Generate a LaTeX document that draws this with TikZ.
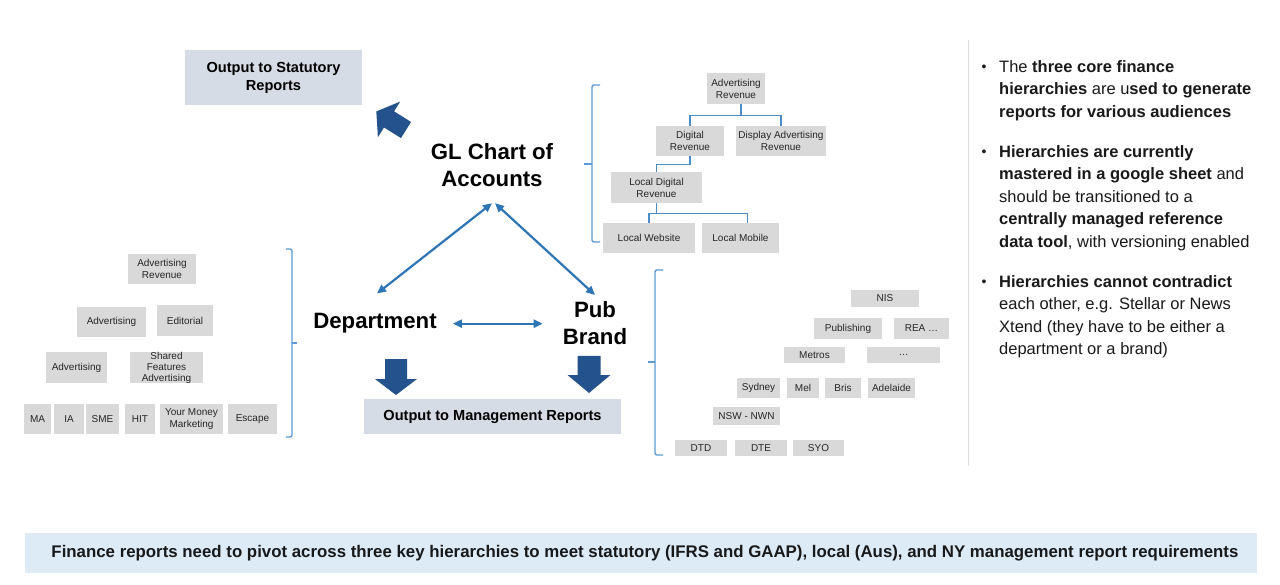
\documentclass[tikz,border=0pt]{standalone}
\usepackage{fontspec}
\usepackage{graphicx}
\setmainfont{Liberation Sans}
\usetikzlibrary{arrows.meta,calc}
\definecolor{boxgray}{HTML}{D9D9D9}
\definecolor{outfill}{HTML}{D6DCE5}
\definecolor{barblue}{HTML}{DDEBF7}
\definecolor{darkblue}{HTML}{24528C}
\definecolor{dblblue}{HTML}{2E75B6}
\definecolor{brkblue}{HTML}{5B9BD5}
\definecolor{treeblue}{HTML}{4A8CC9}
\definecolor{sepgray}{HTML}{DDDDDD}
\newcommand\hb[6]{\node[hbox, minimum width={#4-#2}, minimum height={#5-#3}] (#1) at ({(#2+#4)/2},{(#3+#5)/2}) {#6};}
\newcommand\blockarr[7]{\fill[blockarrow, shift={(#1,#2)}, rotate=#3] (0,-#6) -- ({#4-#5},-#6) -- ({#4-#5},-#7) -- (#4,0) -- ({#4-#5},#7) -- ({#4-#5},#6) -- (0,#6) -- cycle;}
\begin{document}
\begin{tikzpicture}[x=1pt,y=-1pt,
  hbox/.style={fill=boxgray, inner sep=0pt, align=center, text=black!85, font=\fontsize{10}{12}\selectfont},
  outbox/.style={fill=outfill, inner sep=0pt, align=center, font=\fontsize{14.6}{18}\selectfont\bfseries},
  big/.style={inner sep=0pt, align=center, font=\fontsize{22.2}{27.5}\selectfont\bfseries},
  dbl/.style={draw=dblblue, line width=2.2pt, {Triangle[length=9pt,width=8pt]}-{Triangle[length=9pt,width=8pt]}},
  tree/.style={draw=treeblue, line width=1.3pt},
  brk/.style={draw=brkblue, line width=1.4pt, rounded corners=2pt},
  blockarrow/.style={fill=darkblue},
  para/.style={anchor=north west, inner sep=0pt, align=left, font=\fontsize{16.5}{22.5}\selectfont, text=black!90},
  bul/.style={inner sep=0pt, font=\fontsize{14}{14}\selectfont, text=black!90}]
\useasboundingbox (0,0) rectangle (1280,585);
\fill[white] (0,0) rectangle (1280,585);

% output boxes
\node[outbox, minimum width=177, minimum height=55] (stat) at (273.5,77.5) {Output to Statutory\\Reports};
\node[outbox, minimum width=257, minimum height=35] (mgmt) at (492.5,416.5) {Output to Management Reports};

% main labels
\node[big, anchor=north] (gl) at (492,143) {GL Chart of\\Accounts};
\node[big, anchor=base] (dept) at (375,329) {Department};
\node[big, anchor=north] (pub) at (595,301) {Pub\\Brand};

\draw[dbl] ($(gl.south)+(0,16)$) -- ($(dept.north)+(2,-20)$);
\draw[dbl] ($(gl.south)+(3,16)$) -- ($(pub.north)+(0,-6)$);
\draw[dbl] ($(dept.east)+(16,0)$) -- ($(dept.east -| pub.west)+(-20,0)$);

% block arrows
\blockarr{406}{130}{148}{35}{15}{9.5}{21}
\blockarr{396}{359}{-90}{36}{16}{11}{21}
\blockarr{589}{356}{-90}{37}{18}{11.5}{21.5}

% brackets
\draw[brk] (286,249) -- (292,249) -- (292,437) -- (286,437);
\draw[brk] (292,343) -- (297,343);
\draw[brk] (600,85) -- (592,85) -- (592,242) -- (600,242);
\draw[brk] (592,164) -- (584,164);
\draw[brk] (663,270) -- (655,270) -- (655,455) -- (663,455);
\draw[brk] (655,362) -- (648,362);

% left hierarchy
\hb{lar}{128}{254}{196}{284}{Advertising\\Revenue}
\hb{ladv}{77}{307}{146}{337}{Advertising}
\hb{led}{157}{305}{213}{336}{Editorial}
\hb{ladvb}{46}{352}{107}{383}{Advertising}
\node[hbox, font=\fontsize{10}{11}\selectfont, minimum width=73, minimum height=31] (lsh) at (166.5,367.5) {Shared\\Features\\Advertising};
\hb{lma}{24}{404}{51}{434}{MA}
\hb{lia}{54}{404}{84}{434}{IA}
\hb{lsme}{86}{404}{119}{434}{SME}
\hb{lhit}{125}{404}{155}{434}{HIT}
\hb{lymm}{160}{404}{223}{434}{Your Money\\Marketing}
\hb{lesc}{228}{404}{277}{434}{Escape}

% top right hierarchy
\hb{ar2}{707}{73}{765}{104}{Advertising\\Revenue}
\hb{dr}{656}{126}{724}{156}{Digital\\Revenue}
\hb{dar}{736}{126}{826}{156}{Display Advertising\\Revenue}
\hb{ldr}{611}{172}{702}{203}{Local Digital\\Revenue}
\hb{lw}{603}{223}{695}{253}{Local Website}
\hb{lm}{702}{223}{779}{253}{Local Mobile}
\draw[tree] ($(ar2.south)+(5,0)$) -- ++(0,11) -| (dr.north);
\draw[tree] ($(ar2.south)+(5,11)$) -| (dar.north);
\draw[tree] (dr.south) -- ++(0,8) -| (ldr.north);
\draw[tree] (ldr.south) -- ++(0,10) -| (lw.north);
\draw[tree] ($(ldr.south)+(0,10)$) -| ($(lm.north)+(7,0)$);

% bottom right hierarchy
\hb{nis}{851}{290}{919}{307}{NIS}
\hb{pubg}{814}{318}{882}{339}{Publishing}
\hb{rea}{894}{318}{949}{339}{REA …}
\hb{metros}{784}{347}{845}{363}{Metros}
\hb{dots}{867}{347}{940}{363}{…}
\hb{syd}{737}{378}{780}{398}{Sydney}
\hb{mel}{787}{378}{819}{398}{Mel}
\hb{bris}{825}{378}{861}{398}{Bris}
\hb{adl}{868}{378}{915}{398}{Adelaide}
\hb{nsw}{713}{407}{780}{425}{NSW - NWN}
\hb{dtd}{675}{440}{727}{456}{DTD}
\hb{dte}{735}{440}{787}{456}{DTE}
\hb{syo}{793}{440}{844}{456}{SYO}

% separator
\draw[draw=sepgray, line width=1pt] (968,40) -- (968,466);

% right text
\node[bul] (b1) at (984,68) {•};
\node[para] (p1) at (999,60) {The \textbf{three core finance}\\\textbf{hierarchies} are u\textbf{sed to generate}\\\textbf{reports for various audiences}};
\node[bul] (b2) at (984,153) {•};
\node[para] (p2) at (999,145) {\textbf{Hierarchies are currently}\\\textbf{mastered in a google sheet} and\\should be transitioned to a\\\textbf{centrally managed reference}\\\textbf{data tool}, with versioning enabled};
\node[bul] (b3) at (984,283) {•};
\node[para] (p3) at (999,275) {\textbf{Hierarchies cannot contradict}\\each other, e.g. Stellar or News\\Xtend (they have to be either a\\department or a brand)};

% bottom bar
\node[fill=barblue, minimum width=1232, minimum height=40, inner sep=0pt] (bar) at (641,553) {};
\node[inner sep=0pt, text=black!90] (foot) at (645,553) {\resizebox{1187pt}{!}{\fontsize{16}{16}\selectfont\bfseries Finance reports need to pivot across three key hierarchies to meet statutory (IFRS and GAAP), local (Aus), and NY management report requirements}};
\end{tikzpicture}
\end{document}
